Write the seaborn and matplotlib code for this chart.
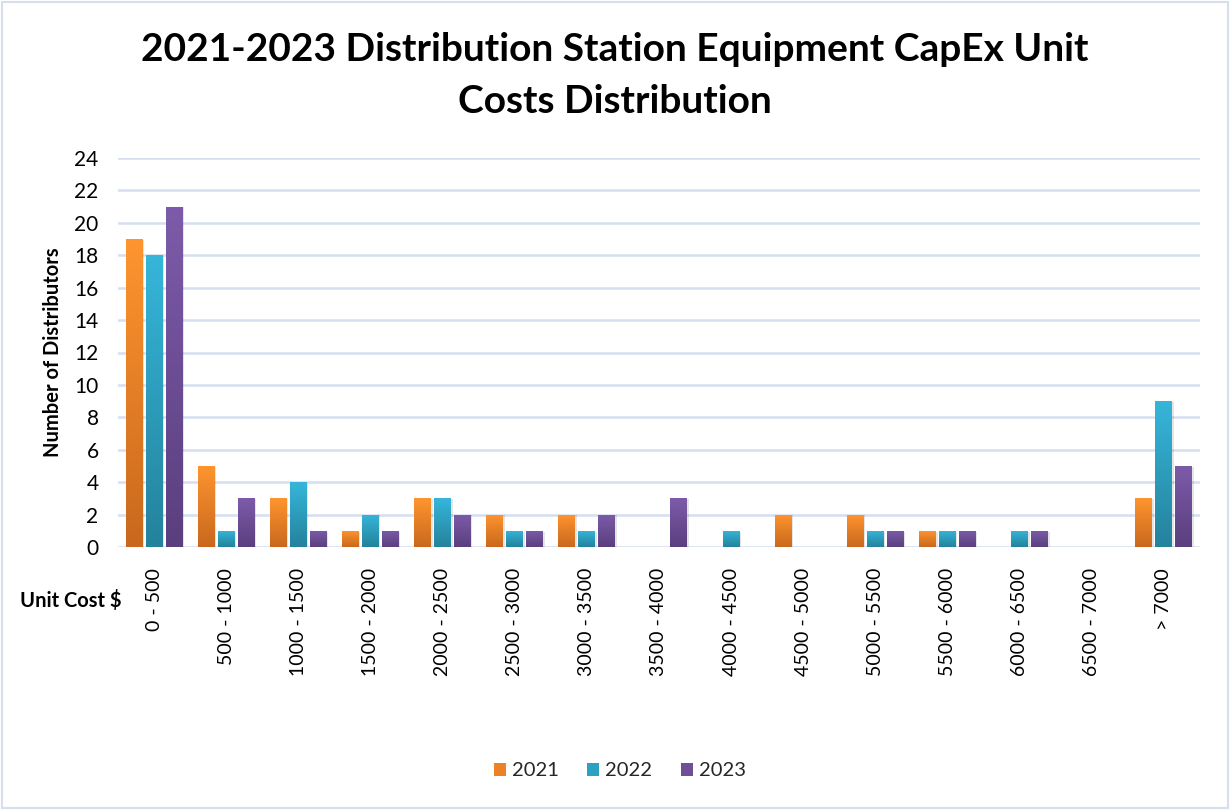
import numpy as np
import pandas as pd
import matplotlib
matplotlib.use("Agg")
import matplotlib.pyplot as plt
import seaborn as sns
from matplotlib.colors import LinearSegmentedColormap
from matplotlib.patches import Rectangle, Patch

categories = ["0 - 500", "500 - 1000", "1000 - 1500", "1500 - 2000", "2000 - 2500",
              "2500 - 3000", "3000 - 3500", "3500 - 4000", "4000 - 4500", "4500 - 5000",
              "5000 - 5500", "5500 - 6000", "6000 - 6500", "6500 - 7000", "> 7000"]
years = ["2021", "2022", "2023"]
v2021 = [19, 5, 3, 1, 3, 2, 2, 0, 0, 2, 2, 1, 0, 0, 3]
v2022 = [18, 1, 4, 2, 3, 1, 1, 0, 1, 0, 1, 1, 1, 0, 9]
v2023 = [21, 3, 1, 1, 2, 1, 2, 3, 0, 0, 1, 1, 1, 0, 5]

top_cols = {"2021": "#FF9530", "2022": "#36B6DA", "2023": "#7D5BAA"}
bot_cols = {"2021": "#C9681D", "2022": "#24829C", "2023": "#5A3F7E"}
mid_cols = {"2021": "#EE8025", "2022": "#2EA0C0", "2023": "#6E4F98"}

df = pd.DataFrame({
    "Category": categories * 3,
    "Year": [y for y in years for _ in categories],
    "Count": v2021 + v2022 + v2023,
})

sns.set_theme(style="white")
plt.rcParams["font.family"] = ["Lato", "DejaVu Sans"]

fig = plt.figure(figsize=(12.3, 8.1), dpi=100)
ax = fig.add_axes([118/1230, 1 - 547/810, 1082/1230, (547-158)/810])

sns.barplot(data=df, x="Category", y="Count", hue="Year", order=categories,
            hue_order=years, palette=mid_cols, width=0.83, gap=0.15,
            saturation=1, ax=ax, legend=False, zorder=3)

ax.set_ylim(0, 24)
ax.set_xlim(-0.5, len(categories) - 0.5)
ax.set_yticks(np.arange(0, 25, 2))
ax.yaxis.grid(True, color="#D5DFF0", linewidth=1.8, zorder=0)
ax.set_axisbelow(True)
for s in ax.spines.values():
    s.set_visible(False)

# gradient fill for bars
grad = np.linspace(0, 1, 256).reshape(-1, 1)
bars = [p for p in ax.patches if isinstance(p, Rectangle)]
n = len(categories)
for i, p in enumerate(bars):
    year = years[i // n]
    h = p.get_height()
    if h <= 0:
        p.set_visible(False)
        continue
    cmap = LinearSegmentedColormap.from_list("g", [bot_cols[year], top_cols[year]])
    x0 = p.get_x(); w = p.get_width()
    p.set_facecolor("none")
    p.set_edgecolor("none")
    im = ax.imshow(grad, extent=[x0, x0 + w, 0, h], origin="lower", cmap=cmap,
                   aspect="auto", zorder=3, interpolation="bilinear")
    im.set_clip_path(p)
    ax.add_patch(Rectangle((x0 + 0.02, 0), w, h - 0.05, facecolor="#000000", alpha=0.10,
                           edgecolor="none", zorder=2.5))
ax.set_xlim(-0.5, len(categories) - 0.5)
ax.set_ylim(0, 24)

ax.tick_params(axis="y", labelsize=15, colors="#000000", length=0, pad=14)
ax.tick_params(axis="x", labelsize=14, colors="#000000", length=0, pad=15)
ax.set_xticks(range(len(categories)))
ax.set_xticklabels(categories, rotation=90, va="top", ha="center")
ax.set_xlabel("")
ax.set_ylabel("Number of Distributors", fontsize=14.5, fontweight="bold", color="#000000", labelpad=8)

fig.text(20/1230, 1 - 600/810, "Unit Cost $", fontsize=14.5, fontweight="bold",
         ha="left", va="center", color="#000000")

fig.suptitle("2021-2023 Distribution Station Equipment CapEx Unit\nCosts Distribution",
             x=615/1230, y=1 - 32/810, fontsize=28, fontweight="bold", color="#000000",
             linespacing=1.6, va="top")

handles = [Patch(facecolor=mid_cols[y], edgecolor="none") for y in years]
fig.legend(handles, years, loc="center", bbox_to_anchor=(620/1230, 1 - 771/810), ncol=3,
           frameon=False, fontsize=14.5, handlelength=0.6, handleheight=0.6,
           handletextpad=0.3, columnspacing=1.4)

fig.patches.append(Rectangle((0.002, 0.002), 0.996, 0.996, transform=fig.transFigure,
                             facecolor="none", edgecolor="#D5DFF0", linewidth=1.5))

fig.savefig("out.png", dpi=100)
